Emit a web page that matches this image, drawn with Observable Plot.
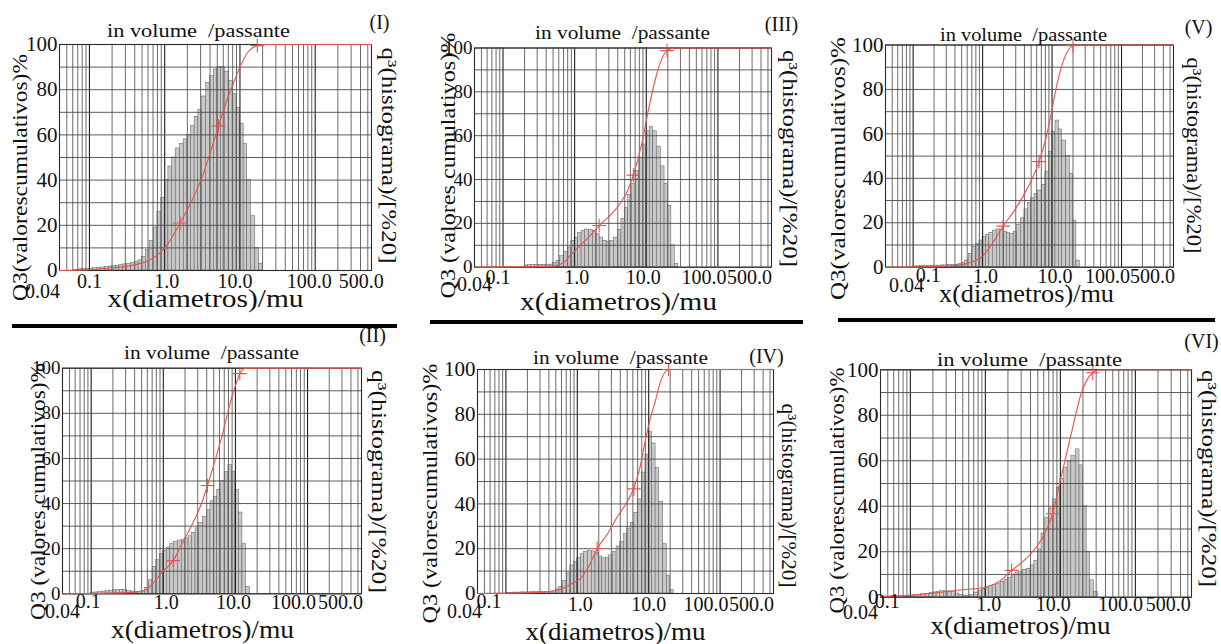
<!DOCTYPE html>
<html><head><meta charset="utf-8">
<script src="https://cdn.jsdelivr.net/npm/d3@7"></script>
<script src="https://cdn.jsdelivr.net/npm/@observablehq/plot@0.6"></script>
<style>
html,body{margin:0;padding:0;background:#fff;}
#page{position:relative;width:1221px;height:644px;overflow:hidden;background:#fff;}
#page svg{position:absolute;left:0;top:0;}
.sep{position:absolute;background:#000;}
</style></head><body><div id="page"></div>
<script>
// ---- class edges of the histogram (µm) ----
const classEdges = [0.04,0.045,0.05,0.056,0.063,0.071,0.08,0.09,
 0.1,0.112,0.125,0.14,0.16,0.18,0.2,0.224,0.25,0.28,0.315,0.355,0.4,0.45,0.5,0.56,0.63,0.71,0.8,0.9,
 1,1.12,1.25,1.4,1.6,1.8,2,2.24,2.5,2.8,3.15,3.55,4,4.5,5,5.6,6.3,7.1,8,9,
 10,11.2,12.5,14,16,18,20,22.4,25,28,31.5,35.5,40,45,50];

// ---- q3 histogram values per class ----
const q3_I = [0,0,0,0,0.3,0.5,0.6,0.7,
 0.8,1,1.1,1.3,1.5,1.7,1.9,2.1,2.4,2.7,
 3,3.4,3.9,4.5,6,9,13,19,26,32,
 40,46,50,54,56,58,60,64,68,71,
 77,83,86,89,90,90,88,84,78,72,
 65,56,40,24,10,3,0,0,0,0,
 0,0,0,0];
const q3_III = [0,0,0,0,0,0,0,0,
 0,0,0,0,0,0,0.8,0.9,1,1,
 1,1,1,1.2,2,3,5,7,9,12,
 13.5,15.5,16.5,17.2,17,16.5,15,13.5,12,11.7,
 12,13.5,17,22,27,33,38,44,50,56,
 62,64,62,55,46,38,28,10,1.5,0,
 0,0,0,0];
const q3_V = [0,0,0,0,0,0,0,0,
 0.3,0.4,0.5,0.5,0.6,0.6,0.7,0.7,0.8,0.8,
 0.9,1,1.1,1.5,2,3,6,9,10.5,12,
 13.5,14.5,15.5,16.5,17,16.8,16,15.3,15,16,
 19,22,26,29,31,33,34.5,37,43,52,
 61,66,62,57,50,42,21,3,0,0,
 0,0,0,0];
const q3_II = [0,0,0,0,0,0,0,0,
 0.5,0.6,0.8,1,1.2,1.4,1.6,1.7,1.7,1.6,
 1.3,1,0.8,0.8,1.2,2.5,6,12,15,17.5,
 19,20.5,22,23,23.6,24,24.5,25.5,27,29,
 31.5,34,37,41,43,46,50,54,57,54,
 46,36,22,3,0,0,0,0,0,0,
 0,0,0,0];
const q3_IV = [0,0,0,0,0,0,0,0,
 0.3,0.3,0.4,0.4,0.5,0.5,0.5,0.6,0.6,0.6,
 0.6,0.6,0.7,1,1.8,3,5.5,9,12.5,14,
 16,17.5,18.6,19,18.8,18,16.5,15.7,15.8,17,
 18.5,21,23,26.5,29,31.5,36,42,54,62,
 72,67,56,41,22,8,1.5,0,0,0,
 0,0,0,0];
const q3_VI = [0.2,0.3,0.3,0.4,0.4,0.5,0.5,0.6,
 0.7,0.9,1.1,1.3,1.5,1.8,2.1,2.4,2.6,2.6,
 2.5,2.2,1.6,1.1,0.7,0.7,1,2,2.8,3.6,
 4.2,4.8,5.4,6,6.8,7.6,8.5,9.6,10.5,11.2,
 12,12.5,14,16,21,28,35,39,43,48,
 52,57,60,62,65,58,40,20,7.4,2.2,
 0,0,0,0];

// ---- Q3 cumulative curves (x µm, Q %) ----
const cumX_I = [0.04,0.1,0.18,0.4,0.66,1.0,1.6,2.3,3.2,4.2,5.2,6.5,7.8,10,13,17,20,560];
const cumQ_I = [0,0.3,1,2.5,5,10,21,31,42,54,64,74,81,90,97,99.5,100,100];
const markX_I = [1.6,5.2,17], markQ_I = [21,64,99.5];

const cumX_III = [0.04,0.5,0.7,0.85,1.2,1.6,2.2,3.2,4.5,5.5,6.6,8.6,10.6,13.7,16,19.5,25,560];
const cumQ_III = [0,0.5,2,5,10,14,19,24,30,35,42,56,71,87,94,98.8,100,100];
const markX_III = [2.2,6.6,19.5], markQ_III = [19,42,98.8];

const cumX_V = [0.04,0.3,0.57,0.8,1.0,1.4,1.97,2.8,4,5.2,6.5,8,9.5,11.8,15,20,25,560];
const cumQ_V = [0,0.5,1.5,3,5,11,18.5,25,33,40,47.5,57,67.5,82.5,94,99.7,100,100];
const markX_V = [1.97,6.5,20], markQ_V = [18.5,47.5,99.7];

const cumX_II = [0.04,0.3,0.52,0.71,0.96,1.37,1.8,2.4,3.2,4.1,5.2,6.4,8.8,10.2,11.5,14,560];
const cumQ_II = [0,0.5,1.2,4.4,9.6,14.7,22,29.5,38,48,59,69,86.6,93,97.6,100,100];
const markX_II = [1.37,4.1,11.5], markQ_II = [14.7,48,97.6];

const cumX_IV = [0.04,0.3,0.6,0.85,1.13,1.5,1.9,2.7,3.6,5,6.2,7.5,9.2,10.5,11.9,15.5,19,560];
const cumQ_IV = [0,0.5,2,4.5,7,13,20,27,34,41,47,56,70,78,84,96.7,100,100];
const markX_IV = [1.9,6.2,19], markQ_IV = [20.1,46.7,100];

const cumX_VI = [0.04,0.1,0.26,0.5,0.71,1.0,1.6,2.24,3,4,5.5,7.9,10,14,19,23,27,33,560];
const cumQ_VI = [0.3,0.8,2.2,3.3,3.7,4.3,7.4,11.8,15,19,25,36.7,51.5,72,89.7,96,98.7,100,100];
const markX_VI = [2.24,7.9,27], markQ_VI = [11.8,36.7,98.7];

// ---- ticks, grid, texts ----
const xTickValues = [0.04,0.1,1,10,100,500];
const xTickLabels = ["0.04","0.1","1.0","10.0","100.0","500.0"];
const yTicks = [0,20,40,60,80,100];
const gridY = [0,10,20,30,40,50,60,70,80,90,100];
const gridMinor = [0.05,0.06,0.07,0.08,0.09,0.2,0.3,0.4,0.5,0.6,0.7,0.8,0.9,2,3,4,5,6,7,8,9,20,30,40,50,60,70,80,90,200,300,400,500];
const gridDecade = [0.1,1,10,100];
const titleText = "in volume\u00a0 /passante";
const xLabelText = "x(diametros)/mu";
const rightLabelText = "q³(histograma)/[%20]";

// ---- layout (page coordinates) ----
const panels = [
 {id:"(I)", q3:q3_I, cx:cumX_I, cq:cumQ_I, mx:markX_I, mq:markQ_I, ylab:"Q3(valorescumulativos)%",
  fl:59, fr:371, ft:44, fb:270, yFont:21,
  title:{x:198,y:36,len:183}, tag:{x:379,y:28}, xlab:{x:205,y:306,len:196},
  yl:{x:26,y:177,len:247}, rl:{x:381,y:155,len:216},
  tickDx:[-17,0,2,-5,-6,16], tickBase:[297,287,287,287,287,287]},
 {id:"(III)", q3:q3_III, cx:cumX_III, cq:cumQ_III, mx:markX_III, mq:markQ_III, ylab:"Q3 (valores cumulativos)%",
  fl:474, fr:771, ft:47.5, fb:266.7, yFont:19,
  title:{x:622,y:38,len:175}, tag:{x:781,y:30}, xlab:{x:618,y:309,len:197},
  yl:{x:454,y:165,len:266}, rl:{x:782,y:158,len:217},
  tickDx:[0,-5,2,-3,-14,4], tickBase:[290,283,283,283,283,283]},
 {id:"(V)", q3:q3_V, cx:cumX_V, cq:cumQ_V, mx:markX_V, mq:markQ_V, ylab:"Q3(valorescumulativos)%",
  fl:885, fr:1173, ft:44.5, fb:266.7, yFont:21,
  title:{x:1023,y:40,len:167}, tag:{x:1198,y:33}, xlab:{x:1026,y:301,len:175},
  yl:{x:844,y:168,len:263}, rl:{x:1186,y:155,len:196},
  tickDx:[21,15,3,3,-14,5], tickBase:[291,281,282,282,282,282]},
 {id:"(II)", q3:q3_II, cx:cumX_II, cq:cumQ_II, mx:markX_II, mq:markQ_II, ylab:"Q3 (valores cumulativos)%",
  fl:62, fr:361, ft:367.7, fb:593.3, yFont:19,
  title:{x:211,y:358,len:175}, tag:{x:372,y:341}, xlab:{x:202,y:637,len:183},
  yl:{x:44,y:491,len:257}, rl:{x:371,y:481,len:223},
  tickDx:[0,-3,3,-2,-14,5], tickBase:[617,607,608,608,608,608]},
 {id:"(IV)", q3:q3_IV, cx:cumX_IV, cq:cumQ_IV, mx:markX_IV, mq:markQ_IV, ylab:"Q3 (valorescumulativos)%",
  fl:477, fr:773, ft:369, fb:593, yFont:21,
  title:{x:620,y:363,len:175}, tag:{x:766,y:362}, xlab:{x:615,y:639,len:180},
  yl:{x:436,y:493,len:260}, rl:{x:781,y:495,len:184},
  tickDx:[-13,-17,3,0,-14,4], tickBase:[617,607,610,610,610,610]},
 {id:"(VI)", q3:q3_VI, cx:cumX_VI, cq:cumQ_VI, mx:markX_VI, mq:markQ_VI, ylab:"Q3 (valorescumulativos)%",
  fl:880, fr:1191, ft:369.3, fb:596.7, yFont:21,
  title:{x:1029,y:365,len:185}, tag:{x:1201,y:347}, xlab:{x:1020,y:633,len:180},
  yl:{x:843,y:490,len:246}, rl:{x:1201,y:478,len:217},
  tickDx:[-20,-23,3.5,-7,-15,3], tickBase:[618,607,610,610,610,610]}
];

const separators = [[12,324,385,4],[430,320,373,4],[838,318,377,4]];

const page = document.getElementById("page");
const RED = "#e8534d";

function build(p) {
  const fl = p.fl, ft = p.ft;
  const bars = p.q3.map((v,i)=>({x1:classEdges[i], x2:classEdges[i+1], q:v})).filter(d=>d.q>0);
  const cum = p.cx.map((x,i)=>({x, q:p.cq[i]}));
  const pts = p.mx.map((x,i)=>({x, q:p.mq[i]}));
  const at = (pos) => ({frameAnchor:"top-left", dx:pos.x-fl, dy:pos.y-ft, textAnchor:"middle", lineAnchor:"bottom"});
  const marks = [
    Plot.rectY(bars, {x1:"x1", x2:"x2", y:"q", fill:"#c8c8c8", stroke:"#5c5c5c", strokeWidth:0.5}),
    Plot.ruleX(gridMinor, {stroke:"#5a5a5a", strokeWidth:0.9}),
    Plot.ruleX(gridDecade, {stroke:"#1e1e1e", strokeWidth:1.1}),
    Plot.ruleY(gridY, {stroke:"#4a4a4a", strokeWidth:0.9}),
    Plot.frame({stroke:"#2a2a2a", strokeWidth:1.1}),
    Plot.line(cum, {x:"x", y:"q", stroke:RED, strokeWidth:1.1, curve:"monotone-x"}),
    Plot.dot(pts, {x:"x", y:"q", symbol:"plus", r:4.5, stroke:RED, strokeWidth:1.1}),
    Plot.text(yTicks, {y:d=>d, text:d=>String(d), frameAnchor:"left", textAnchor:"end", lineAnchor:"middle", dx:-2, fontSize:p.yFont, fill:"#111"}),
    ...xTickValues.map((v,i)=>Plot.text([v], {x:d=>d, text:()=>xTickLabels[i], frameAnchor:"top",
        dx:p.tickDx[i], dy:p.tickBase[i]-ft, lineAnchor:"bottom", textAnchor:i===5?"end":"middle", fontSize:20, fill:"#111"})),
    Plot.text([titleText], {text:d=>d, ...at(p.title), fontSize:19, fill:"#111"}),
    Plot.text([p.id], {text:d=>d, ...at(p.tag), fontSize:20, fill:"#111"}),
    Plot.text([xLabelText], {text:d=>d, ...at(p.xlab), fontSize:25, fill:"#111"}),
    Plot.text([p.ylab], {text:d=>d, ...at(p.yl), rotate:-90, fontSize:21, fill:"#111"}),
    Plot.text([rightLabelText], {text:d=>d, ...at(p.rl), rotate:90, fontSize:21, fill:"#111"})
  ];
  const svg = Plot.plot({
    width:1221, height:644,
    marginLeft:p.fl, marginRight:1221-p.fr, marginTop:p.ft, marginBottom:644-p.fb,
    x:{type:"log", domain:[0.04,560], axis:null},
    y:{domain:[0,100], axis:null},
    style:{background:"transparent", fontFamily:"'Liberation Serif', 'Times New Roman', serif", overflow:"visible", maxWidth:"none"},
    marks
  });
  const lens = new Map([[titleText,p.title.len],[xLabelText,p.xlab.len],[p.ylab,p.yl.len],[rightLabelText,p.rl.len]]);
  d3.select(svg).selectAll("text").each(function(){
    const t = this.textContent;
    if (lens.has(t)) {
      this.setAttribute("textLength", lens.get(t));
      this.setAttribute("lengthAdjust", "spacingAndGlyphs");
    }
  });
  page.appendChild(svg);
}

panels.forEach(build);

separators.forEach(([x,y,w,h])=>{
  const d = document.createElement("div");
  d.className = "sep";
  d.style.left = x+"px"; d.style.top = y+"px"; d.style.width = w+"px"; d.style.height = h+"px";
  page.appendChild(d);
});
</script>
</body></html>
